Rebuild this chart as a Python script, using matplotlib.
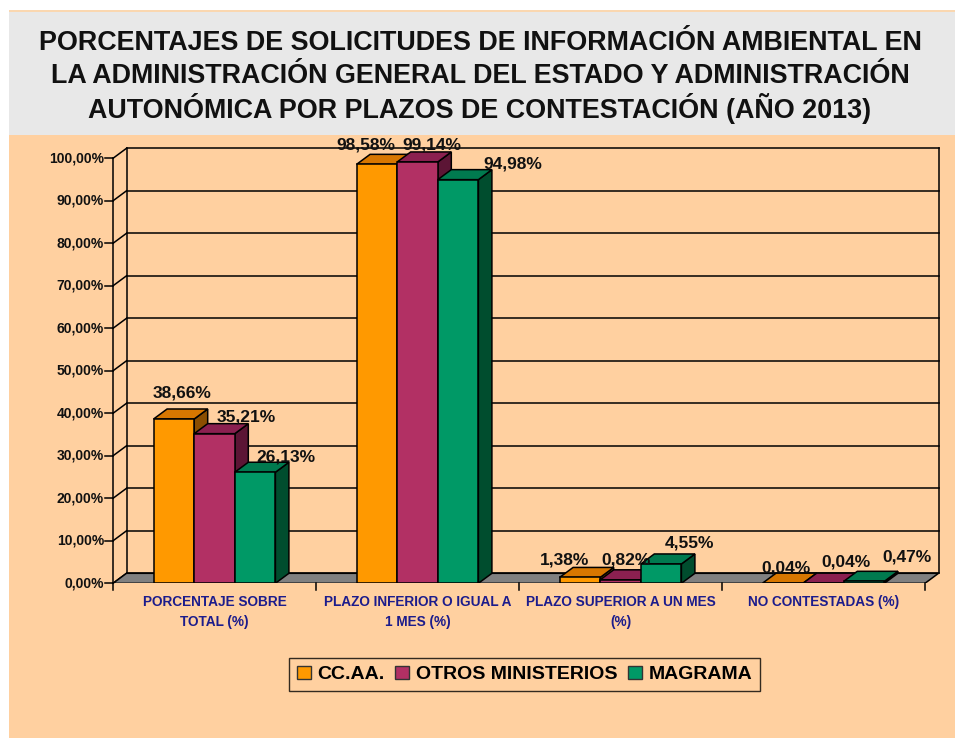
import matplotlib
matplotlib.use('Agg')
import matplotlib.pyplot as plt
from matplotlib.patches import Polygon, Rectangle, Patch

plt.rcParams['font.family'] = ['Liberation Sans', 'DejaVu Sans']

# ---------------- data ----------------
title_lines = ["PORCENTAJES DE SOLICITUDES DE INFORMACIÓN AMBIENTAL EN",
               "LA ADMINISTRACIÓN GENERAL DEL ESTADO Y ADMINISTRACIÓN",
               "AUTONÓMICA POR PLAZOS DE CONTESTACIÓN (AÑO 2013)"]
categories = ["PORCENTAJE SOBRE\nTOTAL (%)",
              "PLAZO INFERIOR O IGUAL A\n1 MES (%)",
              "PLAZO SUPERIOR A UN MES\n(%)",
              "NO CONTESTADAS (%)"]
series_names = ["CC.AA.", "OTROS MINISTERIOS", "MAGRAMA"]
ccaa = [38.66, 98.58, 1.38, 0.04]
otros = [35.21, 99.14, 0.82, 0.04]
magrama = [26.13, 94.98, 4.55, 0.47]
yticks = [0, 10, 20, 30, 40, 50, 60, 70, 80, 90, 100]
ytick_labels = ["0,00%", "10,00%", "20,00%", "30,00%", "40,00%", "50,00%",
                "60,00%", "70,00%", "80,00%", "90,00%", "100,00%"]

# label placement offsets (pixels from top-centre of each bar front)
lab_dx = [[8, -11, -15, 3], [32, 14, 6, 22], [31, 55, 28, 43]]
lab_dy = [[26, 19, 17, 15], [17, 17, 20, 21], [15, 16, 21, 24]]

# ---------------- style ----------------
BG = '#FFD0A0'
GRAY_BAND = '#E8E8E8'
front_cols = ['#FF9900', '#B23064', '#009966']
top_cols = ['#D87700', '#8B2050', '#007A4F']
side_cols = ['#8B4E00', '#5C1535', '#004D2E']
CAT_COL = '#1C1C8C'

W, H = 955, 738
fig = plt.figure(figsize=(W / 100, H / 100), dpi=100)
fig.patch.set_facecolor('white')

def fig_rect(x0, y0, x1, y1, color):
    fig.patches.append(Rectangle((x0 / W, 1 - y1 / H), (x1 - x0) / W, (y1 - y0) / H,
                                 transform=fig.transFigure, facecolor=color,
                                 edgecolor='none', zorder=-10))

fig_rect(9, 11, W, 135, GRAY_BAND)
fig_rect(9, 135, W, H, BG)
fig_rect(9, 10, W, 11.5, '#FAD7B0')

for k, (line, ypx) in enumerate(zip(title_lines, [43, 76, 108])):
    fig.text(480 / W, 1 - ypx / H, line, ha='center', va='center', fontsize=19.4,
             fontweight='bold', color='#111111')

# ---------------- axes geometry ----------------
x0px, y0px = 113.0, 583.3
ppx = 203.0      # px per category
ppy = 4.25       # px per percent
ddx_px, ddy_px = 13.5, 10.0
ddx = ddx_px / ppx
ddy = ddy_px / ppy
ncat = len(categories)

ax_w = ncat * ppx + ddx_px
ax_h = 100 * ppy + ddy_px
ax = fig.add_axes([x0px / W, 1 - y0px / H, ax_w / W, ax_h / H])
ax.set_xlim(0, ncat + ddx)
ax.set_ylim(0, 100 + ddy)
ax.axis('off')
ax.patch.set_alpha(0)

px = 1.0 / ppx
py = 1.0 / ppy
LW = 1.1

for v, lab in zip(yticks, ytick_labels):
    ax.plot([ddx, ncat + ddx], [v + ddy, v + ddy], color='black', lw=LW, zorder=1,
            clip_on=False)
    ax.plot([0, ddx], [v, v + ddy], color='black', lw=LW, zorder=1, clip_on=False)
    ax.plot([-8 * px, 0], [v, v], color='black', lw=LW, zorder=1, clip_on=False)
    ax.text(-9 * px, v, lab, ha='right', va='center',
            fontsize=10, fontweight='bold', color='#111111')

ax.plot([0, 0], [0, 100], color='black', lw=LW, zorder=1, clip_on=False)
ax.plot([ddx, ddx], [ddy, 100 + ddy], color='black', lw=LW, zorder=1, clip_on=False)
ax.plot([ncat + ddx, ncat + ddx], [ddy, 100 + ddy], color='black', lw=LW, zorder=1,
        clip_on=False)

# floor
ax.add_patch(Polygon([(0, 0), (ncat, 0), (ncat + ddx, ddy), (ddx, ddy)], closed=True,
                     facecolor='#808080', edgecolor='black', lw=LW, zorder=2))
for i in range(ncat + 1):
    ax.plot([i, i], [0, -7 * py], color='black', lw=LW, zorder=2, clip_on=False)

# bars
series = [ccaa, otros, magrama]
bw = 0.2
z = 3
for i in range(ncat):
    for j, vals in enumerate(series):
        v = vals[i]
        xl = i + bw * (1 + j)
        xr = xl + bw
        ax.add_patch(Polygon([(xr, 0), (xr + ddx, ddy), (xr + ddx, v + ddy), (xr, v)],
                             closed=True, facecolor=side_cols[j], edgecolor='black',
                             lw=LW, zorder=z))
        ax.add_patch(Polygon([(xl, v), (xr, v), (xr + ddx, v + ddy), (xl + ddx, v + ddy)],
                             closed=True, facecolor=top_cols[j], edgecolor='black',
                             lw=LW, zorder=z + 0.1))
        ax.bar([xl], [v], width=bw, align='edge', color=front_cols[j],
               edgecolor='black', lw=LW, zorder=z + 0.2)
        z += 1

# data labels
for j, vals in enumerate(series):
    for i in range(ncat):
        v = vals[i]
        xc = i + bw * (1 + j) + bw / 2
        ax.annotate(f"{v:.2f}".replace('.', ',') + '%', xy=(xc, v),
                    xytext=(lab_dx[j][i] * 0.72, lab_dy[j][i] * 0.72),
                    textcoords='offset points', ha='center', va='center',
                    fontsize=12.5, fontweight='bold', color='#111111', zorder=100)

# category labels
for i, c in enumerate(categories):
    ax.text(i + 0.5, -12 * py, c, ha='center', va='top', fontsize=9.8,
            fontweight='bold', color=CAT_COL, linespacing=1.5)

# legend
handles = [Patch(facecolor=front_cols[j], edgecolor='#333333', lw=1.0,
                 label=series_names[j]) for j in range(3)]
leg = fig.legend(handles=handles, loc='center', bbox_to_anchor=(524.5 / W, 1 - 674.5 / H),
                 ncol=3, frameon=True, prop={'weight': 'bold', 'size': 14},
                 handlelength=0.7, handleheight=0.7, handletextpad=0.35,
                 columnspacing=0.55, borderpad=0.4, borderaxespad=0, fancybox=False)
leg.get_frame().set_edgecolor('black')
leg.get_frame().set_facecolor(BG)
leg.get_frame().set_linewidth(1.0)

fig.savefig('out.png', dpi=100, facecolor=fig.get_facecolor())
